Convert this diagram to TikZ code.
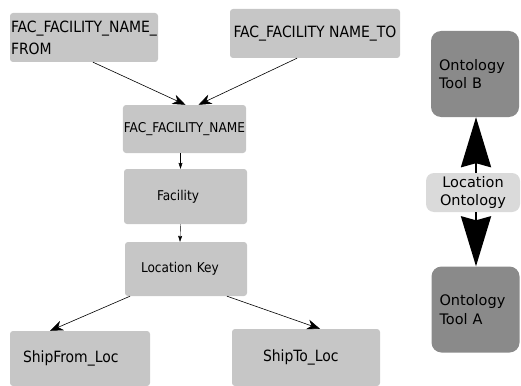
\documentclass[tikz,border=0pt]{standalone}
\usepackage{fontspec}
\setmainfont{DejaVu Sans}
\newfontfamily\condfont{DejaVu Sans Condensed}
\usetikzlibrary{arrows.meta}
\definecolor{boxgray}{HTML}{C6C6C6}
\definecolor{toolgray}{HTML}{8A8A8A}
\definecolor{ontgray}{HTML}{DADADA}

\begin{document}
\begin{tikzpicture}[x=1pt,y=-1pt,
  box/.style={fill=boxgray,rounded corners=3pt,inner sep=1pt,align=left,font=\condfont\fontsize{13.5}{16}\selectfont},
  bigbox/.style={box,font=\condfont\fontsize{15.5}{22}\selectfont},
  tool/.style={fill=toolgray,rounded corners=10pt,minimum width=88pt,minimum height=86pt,text width=72pt,align=left,font=\fontsize{14.5}{18.5}\selectfont},
  link/.style={-{Stealth[length=13pt,width=10pt,inset=4pt]},semithick},
  small/.style={-{Stealth[length=6pt,width=4pt,inset=1pt]},thin},
  fat/.style={-{Stealth[length=50pt,width=30pt,inset=4pt]},line width=2.5pt}]
\useasboundingbox (0,0) rectangle (521,385);
% left hand chain
\node[bigbox,minimum width=148pt,minimum height=49pt,text width=146pt] (from) at (84,37.5) {FAC\_FACILITY\_NAME\_\\FROM};
\node[bigbox,minimum width=170pt,minimum height=49pt] (to) at (315,33.5) {FAC\_FACILITY NAME\_TO};
\node[box,minimum width=123pt,minimum height=48pt] (name) at (184.5,129) {FAC\_FACILITY\_NAME};
\node[box,minimum width=123pt,minimum height=55pt,text width=57pt] (fac) at (185.5,196.5) {Facility};
\node[box,minimum width=122pt,minimum height=54pt,text width=90pt] (lockey) at (186,269) {Location Key};
\node[bigbox,minimum width=140pt,minimum height=55pt,text width=114pt] (shipfrom) at (80,358.5) {ShipFrom\_Loc};
\node[bigbox,minimum width=148pt,minimum height=57pt,text width=86pt] (shipto) at (306,357.5) {ShipTo\_Loc};
\draw[link] ([xshift=9pt]from.south) -- ([xshift=1pt]name.north);
\draw[link] ([xshift=-18pt]to.south) -- ([xshift=14pt]name.north);
\draw[small] ([xshift=-4pt]name.south) -- ([xshift=-5pt]fac.north);
\draw[small] ([xshift=-5pt]fac.south) -- ([xshift=-6pt]lockey.north);
\draw[link] ([xshift=-56pt]lockey.south) -- ([xshift=-30pt]shipfrom.north);
\draw[link] ([xshift=41pt]lockey.south) -- ([xshift=14pt]shipto.north);
% right hand side
\node[tool] (toolb) at (475,74) {Ontology\\Tool B};
\node[fill=ontgray,rounded corners=8pt,minimum width=94pt,minimum height=39pt,align=center,inner sep=1pt,font=\fontsize{14.5}{18.5}\selectfont] (locont) at (473,192.5) {Location\\Ontology};
\node[tool] (toola) at (475.5,309.5) {Ontology\\Tool A};
\draw[fat] ([xshift=3pt]locont.north) -- ([xshift=1pt]toolb.south);
\draw[fat] ([xshift=3pt]locont.south) -- ([xshift=0.5pt]toola.north);
\end{tikzpicture}
\end{document}
